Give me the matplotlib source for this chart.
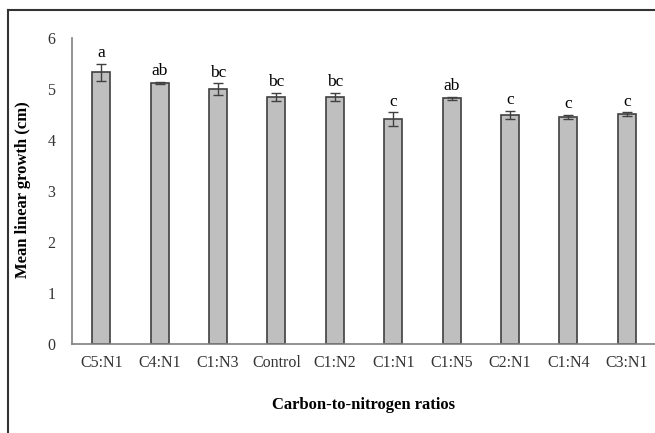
import matplotlib.pyplot as plt
import numpy as np
from matplotlib.lines import Line2D

# ---------------- data ----------------
ratios = ['C5:N1', 'C4:N1', 'C1:N3', 'Control', 'C1:N2',
          'C1:N1', 'C1:N5', 'C2:N1', 'C1:N4', 'C3:N1']
growth = [5.33, 5.12, 5.00, 4.85, 4.85, 4.41, 4.82, 4.49, 4.46, 4.51]
err = [0.17, 0.02, 0.11, 0.08, 0.08, 0.13, 0.03, 0.08, 0.04, 0.03]
letters = ['a', 'ab', 'bc', 'bc', 'bc', 'c', 'ab', 'c', 'c', 'c']

plt.rcParams['font.family'] = ['Liberation Serif', 'DejaVu Serif']

fig = plt.figure(figsize=(6.55, 4.33), dpi=100)
ax = fig.add_axes([72 / 655, 1 - 344 / 433, 584 / 655, 306 / 433])

x = np.arange(len(ratios))
ax.bar(x, growth, width=0.31, color='#bfbfbf', edgecolor='#404040',
       linewidth=1.2, yerr=err,
       error_kw=dict(ecolor='#404040', elinewidth=1, capsize=3.5, capthick=1))

for xi, v, e, t in zip(x, growth, err, letters):
    ax.annotate(t, (xi, v + e), xytext=(0, 2), textcoords='offset points',
                ha='center', va='bottom', fontsize=12.5)

ax.set_xlim(-0.5, len(ratios) - 0.5)
ax.set_ylim(0, 6)
ax.set_yticks(range(0, 7))
ax.set_xticks(x)
ax.set_xticklabels(ratios)
ax.tick_params(axis='both', length=0, labelsize=11.5, colors='#333333')
ax.tick_params(axis='y', pad=12)
ax.tick_params(axis='x', pad=8)

for side in ['top', 'right']:
    ax.spines[side].set_visible(False)
for side in ['left', 'bottom']:
    ax.spines[side].set_color('#7f7f7f')
    ax.spines[side].set_linewidth(1.2)

fig.text(0.5 + 36 / 655, 1 - 405 / 433, 'Carbon-to-nitrogen ratios',
         ha='center', va='center', fontsize=12, fontweight='bold')
fig.text(23 / 655, 1 - 190 / 433, 'Mean linear growth (cm)',
         ha='center', va='center', rotation=90, fontsize=12, fontweight='bold')

# outer frame (top and left edges visible in the original crop)
fig.add_artist(Line2D([8 / 655, 8 / 655], [0, 1 - 10 / 433],
                      transform=fig.transFigure, color='#333333', lw=1.5))
fig.add_artist(Line2D([8 / 655, 1], [1 - 10 / 433, 1 - 10 / 433],
                      transform=fig.transFigure, color='#333333', lw=1.5))

plt.savefig('out.png', dpi=100)
